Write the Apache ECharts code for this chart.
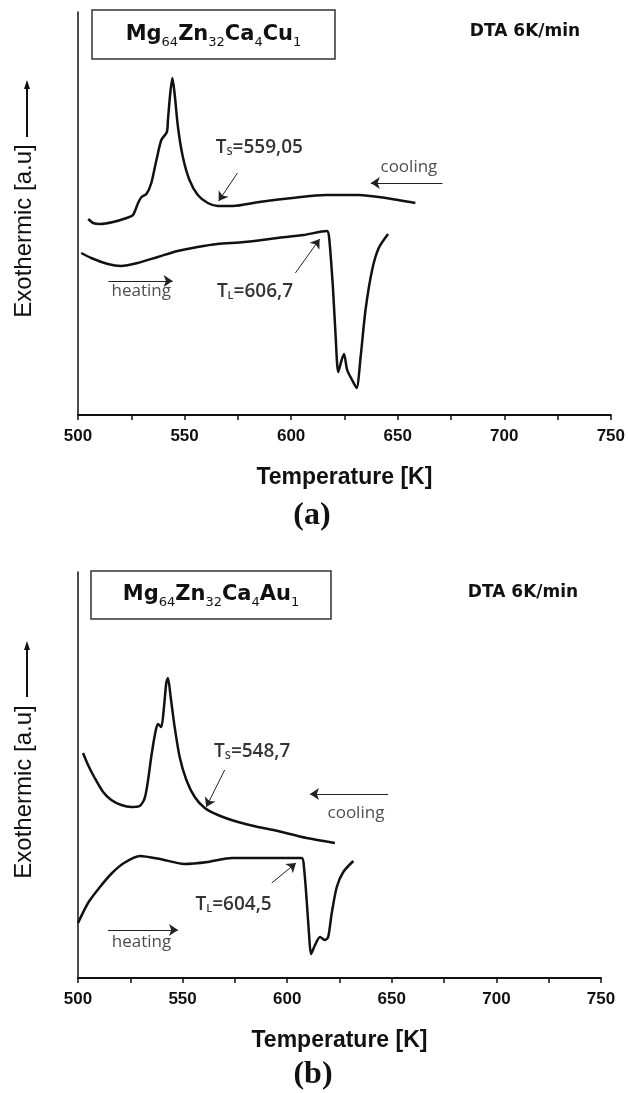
<!DOCTYPE html>
<html lang="en">
<head>
<meta charset="UTF-8">
<title>DTA Mg64Zn32Ca4Cu1 / Mg64Zn32Ca4Au1</title>
<script src="https://cdn.jsdelivr.net/npm/echarts@6/dist/echarts.min.js"></script>
<style>
    html, body { margin: 0; padding: 0; background: #fff; }
    #main { width: 628px; height: 1093px; }
</style>
</head>
<body>
<div id="main"></div>
<script>
    // temperature axis [K]
    var tMin = 500, tMax = 750, tStep = 50;

    // (a) Mg64Zn32Ca4Cu1, signal in a.u.
    var coolA_T = [504.8, 507.1, 510.3, 516.5, 522.8, 525.8, 528.2, 529.8, 532.1, 534.4, 536.8, 539.1, 541.7, 542.2, 543.3, 544.3, 545.3, 546.9, 549.2, 552.3, 556.2, 560.9, 565.6, 572.6, 585.0, 600.6, 616.2, 631.8, 644.3, 658.3];
    var coolA_v = [196, 192, 191, 193, 197, 200, 212, 218, 221, 232, 255, 275, 283, 295, 322, 337, 322, 288, 258, 235, 220, 212, 209, 209, 213, 217, 220, 220, 217, 212];
    var heatA_T = [501.5, 506.2, 514.0, 520.2, 528.0, 537.4, 546.7, 556.1, 565.4, 577.9, 593.5, 605.9, 616.8, 617.8, 619.6, 620.9, 622.1, 623.7, 624.8, 626.3, 628.6, 630.7, 632.6, 634.9, 638.0, 641.1, 645.5];
    var heatA_v = [162, 157, 151, 149, 152, 158, 164, 168, 171, 173, 177, 180, 184, 178, 128, 78, 43, 55, 61, 45, 35, 27, 58, 105, 145, 167, 181];

    // (b) Mg64Zn32Ca4Au1
    var coolB_T = [502.4, 504.8, 508.0, 512.0, 515.9, 520.7, 525.5, 529.5, 531.9, 533.5, 535.0, 537.0, 538.2, 539.8, 541.1, 542.2, 543.0, 544.3, 546.2, 548.6, 551.8, 555.8, 560.6, 566.9, 576.5, 586.0, 593.4, 609.3, 622.8];
    var coolB_v = [225, 213, 200, 186, 178, 173, 171, 172, 180, 198, 221, 246, 254, 251, 271, 295, 300, 281, 251, 221, 198, 181, 170, 163, 156, 151, 148, 140, 135];
    var heatB_T = [500.0, 504.8, 510.5, 516.3, 522.0, 529.6, 539.2, 550.7, 562.1, 573.6, 587.0, 606.9, 608.0, 609.3, 610.4, 611.4, 613.3, 615.7, 618.1, 619.6, 621.3, 623.7, 626.8, 631.6];
    var heatB_v = [55, 75, 91, 105, 115, 122, 119, 114, 116, 120, 120, 120, 111, 78, 45, 24, 33, 41, 38, 41, 65, 91, 106, 117];

    // annotation arrows [from, to] in data units
    var arrowsA = [[[574.8, 242], [566.0, 214]], [[671.0, 232], [637.4, 232]], [[514.3, 134], [544.4, 134]], [[602.0, 142], [613.4, 176]]];
    var arrowsB = [[[570.1, 208], [561.3, 171]], [[648.2, 184], [610.9, 184]], [[514.3, 48], [547.8, 48]], [[592.6, 95], [604.2, 115]]];

    // annotation texts
    var notesA = [
        {pos: [564.9, 267], text: '{m|T}{s|S}{m|=559,05}', align: 'left'},
        {pos: [565.4, 123], text: '{m|T}{s|L}{m|=606,7}', align: 'left'},
        {pos: [655.5, 247], text: '{c|cooling}', align: 'center'},
        {pos: [529.9, 123], text: '{c|heating}', align: 'center'}
    ];
    var notesB = [
        {pos: [565.3, 226], text: '{m|T}{s|S}{m|=548,7}', align: 'left'},
        {pos: [556.4, 73], text: '{m|T}{s|L}{m|=604,5}', align: 'left'},
        {pos: [633.1, 164], text: '{c|cooling}', align: 'center'},
        {pos: [530.6, 35], text: '{c|heating}', align: 'center'}
    ];

    var zip = function (xs, ys) {
        return xs.map(function (x, i) { return [x, ys[i]]; });
    };

    var noteRich = {
        m: {fontFamily: 'Open Sans', fontSize: 19, fontWeight: 600, color: '#000'},
        s: {fontFamily: 'Open Sans', fontSize: 11, fontWeight: 600, color: '#000', verticalAlign: 'bottom', padding: [8, 0, 0, 0]},
        c: {fontFamily: 'Open Sans', fontSize: 17, color: '#222'}
    };

    var xAxisOf = function (gi) {
        return {
            type: 'value', gridIndex: gi, min: tMin, max: tMax, interval: tStep,
            name: 'Temperature [K]', nameLocation: 'middle', nameGap: 51,
            nameTextStyle: {fontFamily: 'Liberation Sans', fontWeight: 'bold', fontSize: 23, color: '#111'},
            axisLine: {lineStyle: {color: '#111', width: 2}},
            axisTick: {show: true, inside: false, length: 5, lineStyle: {color: '#111', width: 1.5}},
            minorTick: {show: true, splitNumber: 2, length: 5, lineStyle: {color: '#111', width: 1.5}},
            axisLabel: {margin: 13, fontFamily: 'Liberation Sans', fontWeight: 'bold', fontSize: 17, color: '#111'},
            splitLine: {show: false}
        };
    };
    var yAxisOf = function (gi, max) {
        return {
            type: 'value', gridIndex: gi, min: 0, max: max,
            axisLine: {show: true, lineStyle: {color: '#111', width: 1.5}},
            axisTick: {show: false}, axisLabel: {show: false}, splitLine: {show: false}
        };
    };
    var curve = function (name, gi, data, arrows) {
        return {
            name: name, type: 'line', xAxisIndex: gi, yAxisIndex: gi,
            data: data, showSymbol: false, smooth: 0.25, silent: true,
            lineStyle: {color: '#111', width: 2.5},
            markLine: arrows ? {
                silent: true, symbol: ['none', 'arrow'], symbolSize: 9,
                label: {show: false},
                lineStyle: {color: '#222', width: 1, type: 'solid'},
                data: arrows.map(function (a) { return [{coord: a[0]}, {coord: a[1]}]; })
            } : undefined
        };
    };
    var notes = function (gi, list) {
        return {
            type: 'scatter', xAxisIndex: gi, yAxisIndex: gi, symbolSize: 1, silent: true,
            itemStyle: {color: 'rgba(0,0,0,0)'},
            data: list.map(function (n) {
                return {
                    value: n.pos,
                    label: {show: true, position: [0, 0], align: n.align, verticalAlign: 'middle',
                        formatter: n.text, rich: noteRich}
                };
            })
        };
    };

    // y-axis caption with arrow
    var yCaption = function (cx, cy, top, tip) {
        return [
            {type: 'text', x: cx, y: cy, rotation: Math.PI / 2,
                style: {text: 'Exothermic [a.u]', fontFamily: 'Liberation Sans', fontSize: 24,
                    fill: '#111', align: 'center', verticalAlign: 'middle'}},
            {type: 'line', shape: {x1: cx + 3, y1: top, x2: cx + 3, y2: tip + 6},
                style: {stroke: '#111', lineWidth: 2}},
            {type: 'polygon', shape: {points: [[cx + 3, tip], [cx, tip + 9], [cx + 6, tip + 9]]},
                style: {fill: '#111'}}
        ];
    };
    var formulaBox = function (x, y, w, h, metal) {
        return [
            {type: 'rect', shape: {x: x, y: y, width: w, height: h},
                style: {fill: '#fff', stroke: '#333', lineWidth: 1.5}},
            {type: 'text', x: x + w / 2, y: y + h / 2,
                style: {
                    text: '{b|Mg}{u|64}{b|Zn}{u|32}{b|Ca}{u|4}{b|' + metal + '}{u|1}',
                    align: 'center', verticalAlign: 'middle',
                    rich: {
                        b: {fontFamily: 'DejaVu Sans', fontWeight: 'bold', fontSize: 21, fill: '#111'},
                        u: {fontFamily: 'DejaVu Sans', fontSize: 13, fill: '#111', verticalAlign: 'bottom', padding: [16, 0, 0, 0]}
                    }
                }}
        ];
    };
    var plain = function (text, x, y, style) {
        return {type: 'text', x: x, y: y,
            style: Object.assign({text: text, fill: '#111', align: 'center', verticalAlign: 'middle'}, style)};
    };

    var chart = echarts.init(document.getElementById('main'), null, {renderer: 'canvas'});
    chart.setOption({
        animation: false,
        backgroundColor: '#fff',
        grid: [
            {left: 78, top: 12, width: 535, height: 403},
            {left: 78, top: 572, width: 523, height: 406}
        ],
        xAxis: [xAxisOf(0), xAxisOf(1)],
        yAxis: [yAxisOf(0, 403), yAxisOf(1, 406)],
        series: [
            curve('cooling a', 0, zip(coolA_T, coolA_v), arrowsA),
            curve('heating a', 0, zip(heatA_T, heatA_v)),
            notes(0, notesA),
            curve('cooling b', 1, zip(coolB_T, coolB_v), arrowsB),
            curve('heating b', 1, zip(heatB_T, heatB_v)),
            notes(1, notesB)
        ],
        graphic: [].concat(
            formulaBox(92, 10, 243, 49, 'Cu'),
            formulaBox(91, 571, 240, 48, 'Au'),
            yCaption(24, 231, 137, 80),
            yCaption(24, 792, 697, 641),
            [
                plain('DTA 6K/min', 525, 32, {fontFamily: 'DejaVu Sans', fontWeight: 'bold', fontSize: 17}),
                plain('DTA 6K/min', 523, 593, {fontFamily: 'DejaVu Sans', fontWeight: 'bold', fontSize: 17}),
                plain('(a)', 312, 516, {fontFamily: 'Liberation Serif', fontWeight: 'bold', fontSize: 32}),
                plain('(b)', 313, 1075, {fontFamily: 'Liberation Serif', fontWeight: 'bold', fontSize: 32})
            ]
        )
    });
</script>
</body>
</html>
